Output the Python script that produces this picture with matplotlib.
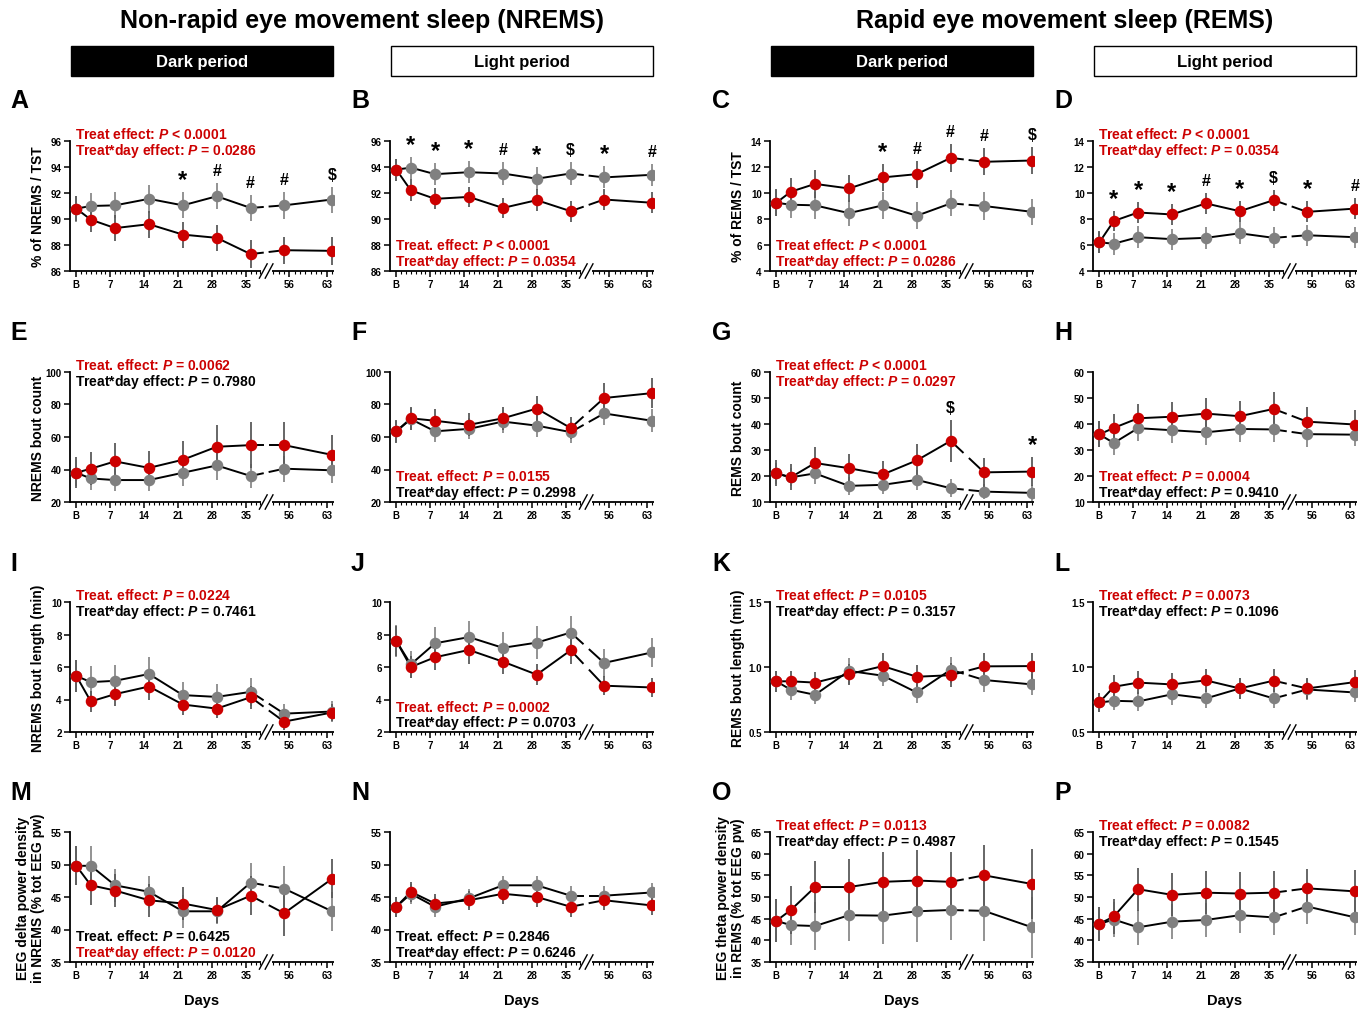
import numpy as np
import matplotlib.pyplot as plt
from matplotlib.patches import Rectangle

plt.rcParams['font.family'] = ['Liberation Sans', 'DejaVu Sans']
plt.rcParams['font.weight'] = 'bold'
plt.rcParams['mathtext.fontset'] = 'custom'
plt.rcParams['mathtext.it'] = 'Liberation Sans:italic:bold'
plt.rcParams['mathtext.rm'] = 'Liberation Sans:bold'
plt.rcParams['mathtext.bf'] = 'Liberation Sans:bold'

RED = '#cc0000'
GRAY = '#808080'

# sampling days (B = baseline)
days = [0, 3, 8, 15, 22, 29, 36, 55, 64]
tick_days = [0, 7, 14, 21, 28, 35, 56, 63]
tick_labels = ['B', '7', '14', '21', '28', '35', '56', '63']

# ---- NREMS % of TST ----
A_ctrl = [90.8, 91.0, 91.05, 91.55, 91.05, 91.75, 90.85, 91.05, 91.5]
A_ctrl_sem = [1.0, 1.0, 1.0, 1.1, 1.0, 1.0, 1.0, 1.05, 1.0]
A_trt = [90.8, 89.95, 89.3, 89.6, 88.8, 88.55, 87.3, 87.6, 87.55]
A_trt_sem = [0.95, 0.95, 1.0, 1.05, 1.0, 1.0, 1.1, 1.05, 1.05]
A_marks = ['', '', '', '', '*', '#', '#', '#', '$']

B_ctrl = [93.8, 93.95, 93.45, 93.6, 93.5, 93.1, 93.5, 93.2, 93.4]
B_ctrl_sem = [0.85, 0.85, 0.85, 0.85, 0.85, 0.9, 0.85, 0.85, 0.85]
B_trt = [93.8, 92.2, 91.55, 91.7, 90.85, 91.45, 90.6, 91.5, 91.25]
B_trt_sem = [0.85, 0.85, 0.8, 0.8, 0.8, 0.85, 0.8, 0.8, 0.8]
B_marks = ['', '*', '*', '*', '#', '*', '$', '*', '#']

# ---- REMS % of TST ----
C_ctrl = [9.25, 9.1, 9.05, 8.45, 9.05, 8.25, 9.2, 9.0, 8.55]
C_ctrl_sem = [1.0, 1.0, 1.05, 1.0, 1.05, 1.05, 1.0, 1.05, 1.0]
C_trt = [9.25, 10.1, 10.7, 10.35, 11.2, 11.45, 12.7, 12.4, 12.5]
C_trt_sem = [1.05, 1.05, 1.05, 1.05, 1.05, 1.05, 1.05, 1.05, 1.05]
C_marks = ['', '', '', '', '*', '#', '#', '#', '$']

D_ctrl = [6.2, 6.1, 6.6, 6.45, 6.55, 6.9, 6.55, 6.75, 6.6]
D_ctrl_sem = [0.8, 0.85, 0.85, 0.8, 0.85, 0.85, 0.8, 0.8, 0.8]
D_trt = [6.2, 7.85, 8.5, 8.35, 9.2, 8.6, 9.45, 8.55, 8.8]
D_trt_sem = [0.85, 0.8, 0.8, 0.8, 0.8, 0.8, 0.8, 0.8, 0.8]
D_marks = ['', '*', '*', '*', '#', '*', '$', '*', '#']

# ---- NREMS bout count ----
E_ctrl = [38, 34.5, 33.5, 33.5, 38, 42.5, 36, 40.5, 39.5]
E_ctrl_sem = [8, 7, 7, 7, 8, 9, 7.5, 8, 8]
E_trt = [38, 40.5, 45, 41, 46, 54, 55, 55, 49]
E_trt_sem = [9.5, 10, 11, 10.5, 11.5, 13.5, 14, 14, 12.5]

F_ctrl = [63.5, 71, 63.5, 65, 69.5, 67, 63, 74.5, 70]
F_ctrl_sem = [6.5, 7, 6.5, 6.5, 7, 7, 6.5, 7, 7]
F_trt = [63.5, 71.5, 70, 67.5, 71.5, 77.5, 65.5, 84, 87]
F_trt_sem = [7, 7, 7, 7, 7, 8, 7, 9, 9]

# ---- REMS bout count ----
G_ctrl = [21, 19.5, 21, 16.2, 16.6, 18.5, 15.3, 14, 13.5]
G_ctrl_sem = [4, 3.5, 4, 3.5, 3.5, 4, 3.5, 3, 3]
G_trt = [21, 19.5, 25, 23, 20.6, 26, 33.5, 21.4, 21.7]
G_trt_sem = [5, 5, 6, 5.5, 5, 6.5, 8, 5.5, 5.5]
G_marks = ['', '', '', '', '', '', '$', '', '*']

H_ctrl = [36, 32.7, 38.4, 37.6, 36.8, 38.1, 37.9, 36.1, 35.9]
H_ctrl_sem = [5, 4.5, 5, 5, 5, 5, 5, 5, 4.5]
H_trt = [36, 38.5, 42.2, 42.8, 44, 43, 45.8, 40.9, 39.8]
H_trt_sem = [5, 5.5, 5.5, 5.5, 6, 6, 6.5, 5.5, 5.5]

# ---- NREMS bout length ----
I_ctrl = [5.45, 5.07, 5.15, 5.57, 4.27, 4.16, 4.47, 3.13, 3.26]
I_ctrl_sem = [1.0, 1.0, 1.0, 1.05, 0.8, 0.8, 0.85, 0.6, 0.65]
I_trt = [5.45, 3.88, 4.33, 4.8, 3.69, 3.44, 4.14, 2.64, 3.2]
I_trt_sem = [1.0, 0.65, 0.7, 0.8, 0.65, 0.6, 0.7, 0.5, 0.55]

J_ctrl = [7.6, 6.16, 7.46, 7.84, 7.18, 7.5, 8.12, 6.25, 6.9]
J_ctrl_sem = [1.0, 0.85, 1.0, 1.0, 0.95, 1.0, 1.0, 0.85, 0.9]
J_trt = [7.6, 6.0, 6.6, 7.05, 6.33, 5.53, 7.03, 4.85, 4.74]
J_trt_sem = [0.9, 0.65, 0.8, 0.85, 0.75, 0.65, 0.85, 0.6, 0.6]

# ---- REMS bout length ----
K_ctrl = [0.89, 0.825, 0.786, 0.97, 0.933, 0.804, 0.979, 0.9, 0.866]
K_ctrl_sem = [0.08, 0.08, 0.07, 0.1, 0.08, 0.08, 0.1, 0.09, 0.08]
K_trt = [0.89, 0.89, 0.88, 0.945, 1.007, 0.925, 0.937, 1.005, 1.007]
K_trt_sem = [0.08, 0.08, 0.08, 0.08, 0.1, 0.09, 0.09, 0.1, 0.1]

L_ctrl = [0.727, 0.74, 0.735, 0.79, 0.758, 0.835, 0.758, 0.827, 0.804]
L_ctrl_sem = [0.07, 0.07, 0.07, 0.08, 0.07, 0.08, 0.07, 0.08, 0.07]
L_trt = [0.727, 0.848, 0.88, 0.866, 0.897, 0.835, 0.895, 0.835, 0.884]
L_trt_sem = [0.07, 0.09, 0.09, 0.09, 0.09, 0.08, 0.09, 0.08, 0.09]

# ---- EEG delta in NREMS ----
M_ctrl = [49.8, 49.8, 46.8, 45.8, 42.8, 42.8, 47.2, 46.3, 42.8]
M_ctrl_sem = [3, 3, 2.5, 2.5, 2.5, 2, 3, 3.5, 3]
M_trt = [49.8, 46.8, 46.0, 44.5, 44.0, 43.0, 45.2, 42.5, 47.8]
M_trt_sem = [3, 3, 2.5, 2.5, 2.5, 2, 3, 3.5, 3]

N_ctrl = [43.5, 45.5, 43.5, 44.8, 46.8, 46.8, 45.2, 45.2, 45.7]
N_ctrl_sem = [1.5, 1.5, 1.5, 1.5, 1.5, 1.5, 1.5, 1.5, 1.5]
N_trt = [43.5, 45.8, 44.0, 44.5, 45.5, 45.0, 43.5, 44.5, 43.7]
N_trt_sem = [1.5, 1.5, 1.5, 1.5, 1.5, 1.5, 1.5, 1.5, 1.5]

# ---- EEG theta in REMS ----
O_ctrl = [44.5, 43.5, 43.3, 45.8, 45.7, 46.7, 47.0, 46.8, 43.0]
O_ctrl_sem = [5, 4.5, 5.5, 6, 6.5, 7, 7, 7, 7]
O_trt = [44.5, 47.0, 52.3, 52.3, 53.5, 53.8, 53.5, 55.0, 53.0]
O_trt_sem = [5, 5.5, 6, 6.5, 7, 7, 7, 7, 8]

P_ctrl = [43.8, 44.8, 43.0, 44.3, 44.7, 45.8, 45.3, 47.8, 45.3]
P_ctrl_sem = [4, 4, 4, 4, 4, 4, 4, 4, 4]
P_trt = [43.8, 45.5, 51.8, 50.5, 51.0, 50.8, 51.0, 52.0, 51.3]
P_trt_sem = [4, 4, 5, 5, 5, 5, 5, 4.5, 5]


def xpos(d):
    d = np.asarray(d, dtype=float)
    return np.where(d <= 40, d, 44 + (d - 56) * 1.1)


def panel(ax, ctrl, ctrl_sem, trt, trt_sem, ylim, yticks, marks, stats, where, yfmt='{:g}'):
    x = xpos(days)
    for y, e, col, ecol in [(ctrl, ctrl_sem, GRAY, '#8a8a8a'), (trt, trt_sem, RED, '#5a5a5a')]:
        y = np.asarray(y, float)
        e = np.asarray(e, float)
        ax.vlines(x, y - e, y + e, color=ecol, lw=1.3, zorder=2)
        g0, g1 = 38.5, 39.9
        ya = np.interp(g0, [x[6], x[7]], [y[6], y[7]])
        yb = np.interp(g1, [x[6], x[7]], [y[6], y[7]])
        ax.plot(x[:7], y[:7], color='black', lw=1.4, zorder=3)
        ax.plot([x[6], g0], [y[6], ya], color='black', lw=1.4, zorder=3)
        ax.plot([g1, x[7]], [yb, y[7]], color='black', lw=1.4, zorder=3)
        ax.plot(x[7:], y[7:], color='black', lw=1.4, zorder=3)
        ax.plot(x, y, 'o', color=col, ms=7.3, mec=col, zorder=4)

    if marks:
        for i, m in enumerate(marks):
            if not m:
                continue
            top = max(ctrl[i] + ctrl_sem[i], trt[i] + trt_sem[i])
            ax.annotate(m, (x[i], top), xytext=(0, 9),
                        textcoords='offset points', ha='center', va='center',
                        fontsize=17 if m == '*' else 11.5, fontweight='bold')

    ax.set_xlim(-1.3, 53.2)
    ax.set_ylim(*ylim)
    ax.set_yticks(yticks)
    ax.set_yticklabels([yfmt.format(t) for t in yticks])
    for s in ['top', 'right', 'bottom']:
        ax.spines[s].set_visible(False)
    ax.spines['left'].set_linewidth(1.3)
    tr = ax.get_xaxis_transform()
    kw = dict(transform=tr, color='black', lw=1.3, clip_on=False, solid_capstyle='butt')
    ax.plot([-1.3, 38.2], [0, 0], **kw)
    ax.plot([40.4, 53.2], [0, 0], **kw)
    ax.plot([37.8, 39.4], [-0.055, 0.055], color='black', lw=1.0, transform=tr, clip_on=False)
    ax.plot([39.0, 40.6], [-0.055, 0.055], color='black', lw=1.0, transform=tr, clip_on=False)

    ax.set_xticks(xpos(tick_days))
    ax.set_xticklabels(tick_labels)
    minor = list(range(0, 39)) + list(range(53, 65))
    ax.set_xticks(xpos(minor), minor=True)
    ax.tick_params(axis='x', which='major', length=4, width=1.1, labelsize=7, pad=2)
    ax.tick_params(axis='x', which='minor', length=2.5, width=0.8)
    ax.tick_params(axis='y', length=4, width=1.1, labelsize=7, pad=2)

    ys = [1.055, 0.93] if where == 'top' else [0.20, 0.075]
    for (txt, c), yy in zip(stats, ys):
        ax.text(0.02, yy, txt, transform=ax.transAxes, color=c, fontsize=10,
                fontweight='bold', ha='left', va='center')


W, H = 1369, 1012
fig = plt.figure(figsize=(W / 100, H / 100), dpi=100)

lefts = [70, 390, 770, 1093]
tops = [142, 373, 603, 833]
aw, ah = 264, 130

axes = {}
letters = 'ABCDEFGHIJKLMNOP'
for r in range(4):
    for c in range(4):
        ax = fig.add_axes([lefts[c] / W, 1 - (tops[r] + ah) / H, aw / W, ah / H])
        axes[letters[r * 4 + c]] = ax

R, K = RED, 'black'

panel(axes['A'], A_ctrl, A_ctrl_sem, A_trt, A_trt_sem, (86, 96), [86, 88, 90, 92, 94, 96], A_marks,
      [('Treat effect: $P$ < 0.0001', R), ('Treat*day effect: $P$ = 0.0286', R)], 'top')
panel(axes['B'], B_ctrl, B_ctrl_sem, B_trt, B_trt_sem, (86, 96), [86, 88, 90, 92, 94, 96], B_marks,
      [('Treat. effect: $P$ < 0.0001', R), ('Treat*day effect: $P$ = 0.0354', R)], 'bottom')
panel(axes['C'], C_ctrl, C_ctrl_sem, C_trt, C_trt_sem, (4, 14), [4, 6, 8, 10, 12, 14], C_marks,
      [('Treat effect: $P$ < 0.0001', R), ('Treat*day effect: $P$ = 0.0286', R)], 'bottom')
panel(axes['D'], D_ctrl, D_ctrl_sem, D_trt, D_trt_sem, (4, 14), [4, 6, 8, 10, 12, 14], D_marks,
      [('Treat effect: $P$ < 0.0001', R), ('Treat*day effect: $P$ = 0.0354', R)], 'top')

panel(axes['E'], E_ctrl, E_ctrl_sem, E_trt, E_trt_sem, (20, 100), [20, 40, 60, 80, 100], None,
      [('Treat. effect: $P$ = 0.0062', R), ('Treat*day effect: $P$ = 0.7980', K)], 'top')
panel(axes['F'], F_ctrl, F_ctrl_sem, F_trt, F_trt_sem, (20, 100), [20, 40, 60, 80, 100], None,
      [('Treat. effect: $P$ = 0.0155', R), ('Treat*day effect: $P$ = 0.2998', K)], 'bottom')
panel(axes['G'], G_ctrl, G_ctrl_sem, G_trt, G_trt_sem, (10, 60), [10, 20, 30, 40, 50, 60], G_marks,
      [('Treat effect: $P$ < 0.0001', R), ('Treat*day effect: $P$ = 0.0297', R)], 'top')
panel(axes['H'], H_ctrl, H_ctrl_sem, H_trt, H_trt_sem, (10, 60), [10, 20, 30, 40, 50, 60], None,
      [('Treat effect: $P$ = 0.0004', R), ('Treat*day effect: $P$ = 0.9410', K)], 'bottom')

panel(axes['I'], I_ctrl, I_ctrl_sem, I_trt, I_trt_sem, (2, 10), [2, 4, 6, 8, 10], None,
      [('Treat. effect: $P$ = 0.0224', R), ('Treat*day effect: $P$ = 0.7461', K)], 'top')
panel(axes['J'], J_ctrl, J_ctrl_sem, J_trt, J_trt_sem, (2, 10), [2, 4, 6, 8, 10], None,
      [('Treat. effect: $P$ = 0.0002', R), ('Treat*day effect: $P$ = 0.0703', K)], 'bottom')
panel(axes['K'], K_ctrl, K_ctrl_sem, K_trt, K_trt_sem, (0.5, 1.5), [0.5, 1.0, 1.5], None,
      [('Treat effect: $P$ = 0.0105', R), ('Treat*day effect: $P$ = 0.3157', K)], 'top', '{:.1f}')
panel(axes['L'], L_ctrl, L_ctrl_sem, L_trt, L_trt_sem, (0.5, 1.5), [0.5, 1.0, 1.5], None,
      [('Treat effect: $P$ = 0.0073', R), ('Treat*day effect: $P$ = 0.1096', K)], 'top', '{:.1f}')

panel(axes['M'], M_ctrl, M_ctrl_sem, M_trt, M_trt_sem, (35, 55), [35, 40, 45, 50, 55], None,
      [('Treat. effect: $P$ = 0.6425', K), ('Treat*day effect: $P$ = 0.0120', R)], 'bottom')
panel(axes['N'], N_ctrl, N_ctrl_sem, N_trt, N_trt_sem, (35, 55), [35, 40, 45, 50, 55], None,
      [('Treat. effect: $P$ = 0.2846', K), ('Treat*day effect: $P$ = 0.6246', K)], 'bottom')
panel(axes['O'], O_ctrl, O_ctrl_sem, O_trt, O_trt_sem, (35, 65), [35, 40, 45, 50, 55, 60, 65], None,
      [('Treat effect: $P$ = 0.0113', R), ('Treat*day effect: $P$ = 0.4987', K)], 'top')
panel(axes['P'], P_ctrl, P_ctrl_sem, P_trt, P_trt_sem, (35, 65), [35, 40, 45, 50, 55, 60, 65], None,
      [('Treat effect: $P$ = 0.0082', R), ('Treat*day effect: $P$ = 0.1545', K)], 'top')

ylabels = {
    'A': '% of NREMS / TST', 'E': 'NREMS bout count', 'I': 'NREMS bout length (min)',
    'M': 'EEG delta power density\nin NREMS (% tot EEG pw)',
    'C': '% of REMS / TST', 'G': 'REMS bout count', 'K': 'REMS bout length (min)',
    'O': 'EEG theta power density\nin REMS (% tot EEG pw)',
}
for k, lab in ylabels.items():
    axes[k].set_ylabel(lab, fontsize=10, fontweight='bold', linespacing=1.05)
    axes[k].yaxis.set_label_coords(-0.095, 0.5)

for k in 'MNOP':
    axes[k].set_xlabel('Days', fontsize=10.5, fontweight='bold', labelpad=9)

# panel letters
letter_x = [10, 351, 712, 1054]
letter_y = [101, 333, 564, 793]
for r in range(4):
    for c in range(4):
        fig.text(letter_x[c] / W, 1 - letter_y[r] / H, letters[r * 4 + c], fontsize=18,
                 fontweight='bold', ha='left', va='center')

# headers
fig.text(362 / W, 1 - 21 / H, 'Non-rapid eye movement sleep (NREMS)', fontsize=18,
         fontweight='bold', ha='center', va='center')
fig.text(1065 / W, 1 - 21 / H, 'Rapid eye movement sleep (REMS)', fontsize=18,
         fontweight='bold', ha='center', va='center')

for c in range(4):
    x0 = lefts[c] + 1
    dark = c in (0, 2)
    fig.patches.append(Rectangle((x0 / W, 1 - 77 / H), 262 / W, 30 / H, transform=fig.transFigure,
                                 facecolor='black' if dark else 'white', edgecolor='black', lw=1.0))
    fig.text((x0 + 131) / W, 1 - 62 / H, 'Dark period' if dark else 'Light period', fontsize=12,
             fontweight='bold', ha='center', va='center', color='white' if dark else 'black')

fig.savefig('out.png', dpi=100)
